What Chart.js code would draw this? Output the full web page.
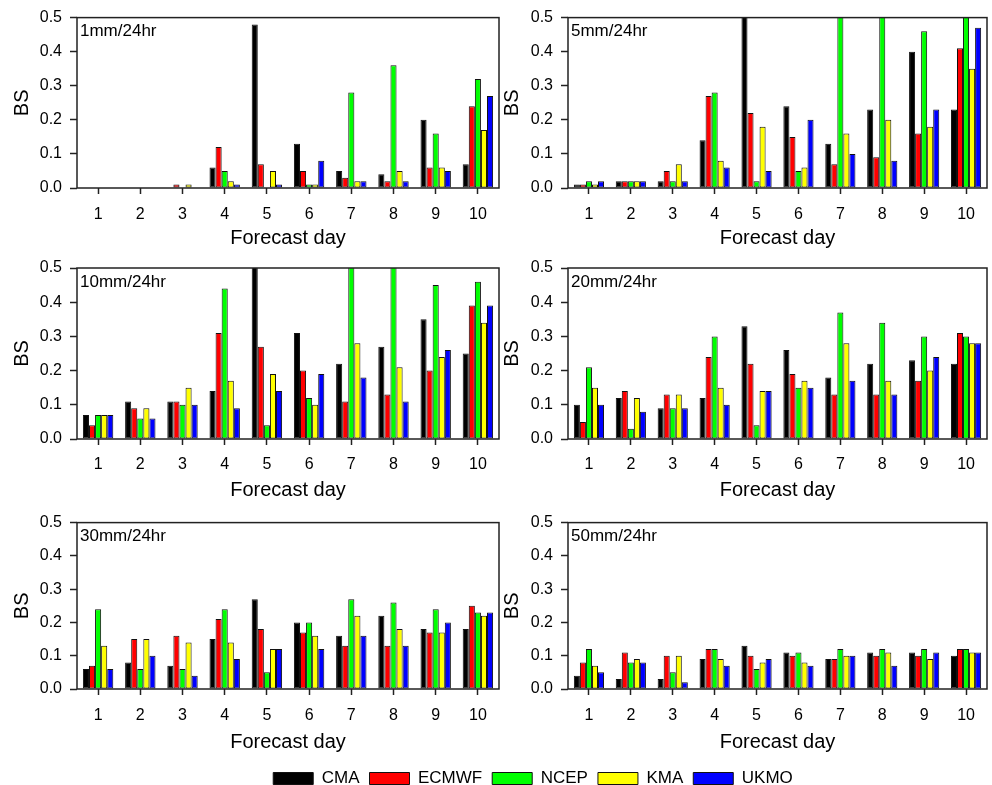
<!DOCTYPE html>
<html>
<head>
<meta charset="utf-8">
<title>BS by forecast day</title>
<script src="https://cdn.jsdelivr.net/npm/chart.js@4.4.1/dist/chart.umd.min.js"></script>
<style>
  html, body { margin: 0; padding: 0; background: #fff; }
  #wrap { position: relative; width: 992px; height: 785px; overflow: hidden; }
  #wrap canvas { position: absolute; }
</style>
</head>
<body>
<div id="wrap"></div>
<script>
var days = ['1', '2', '3', '4', '5', '6', '7', '8', '9', '10'];
var models = ['CMA', 'ECMWF', 'NCEP', 'KMA', 'UKMO'];

// Brier score per threshold, one row per model (same order as models).
// 0.55 marks bars that run off the top of the 0.5 scale.
var bs1mm = [
    [0, 0, 0, 0.06, 0.48, 0.13, 0.05, 0.04, 0.20, 0.07],
    [0, 0, 0.01, 0.12, 0.07, 0.05, 0.03, 0.02, 0.06, 0.24],
    [0, 0, 0, 0.05, 0, 0.01, 0.28, 0.36, 0.16, 0.32],
    [0, 0, 0.01, 0.02, 0.05, 0.01, 0.02, 0.05, 0.06, 0.17],
    [0, 0, 0, 0.01, 0.01, 0.08, 0.02, 0.02, 0.05, 0.27]
];
var bs5mm = [
    [0.01, 0.02, 0.02, 0.14, 0.55, 0.24, 0.13, 0.23, 0.40, 0.23],
    [0.01, 0.02, 0.05, 0.27, 0.22, 0.15, 0.07, 0.09, 0.16, 0.41],
    [0.02, 0.02, 0.02, 0.28, 0.02, 0.05, 0.55, 0.55, 0.46, 0.55],
    [0.01, 0.02, 0.07, 0.08, 0.18, 0.06, 0.16, 0.20, 0.18, 0.35],
    [0.02, 0.02, 0.02, 0.06, 0.05, 0.20, 0.10, 0.08, 0.23, 0.47]
];
var bs10mm = [
    [0.07, 0.11, 0.11, 0.14, 0.55, 0.31, 0.22, 0.27, 0.35, 0.25],
    [0.04, 0.09, 0.11, 0.31, 0.27, 0.20, 0.11, 0.13, 0.20, 0.39],
    [0.07, 0.06, 0.10, 0.44, 0.04, 0.12, 0.55, 0.55, 0.45, 0.46],
    [0.07, 0.09, 0.15, 0.17, 0.19, 0.10, 0.28, 0.21, 0.24, 0.34],
    [0.07, 0.06, 0.10, 0.09, 0.14, 0.19, 0.18, 0.11, 0.26, 0.39]
];
var bs20mm = [
    [0.10, 0.12, 0.09, 0.12, 0.33, 0.26, 0.18, 0.22, 0.23, 0.22],
    [0.05, 0.14, 0.13, 0.24, 0.22, 0.19, 0.13, 0.13, 0.17, 0.31],
    [0.21, 0.03, 0.09, 0.30, 0.04, 0.15, 0.37, 0.34, 0.30, 0.30],
    [0.15, 0.12, 0.13, 0.15, 0.14, 0.17, 0.28, 0.17, 0.20, 0.28],
    [0.10, 0.08, 0.09, 0.10, 0.14, 0.15, 0.17, 0.13, 0.24, 0.28]
];
var bs30mm = [
    [0.06, 0.08, 0.07, 0.15, 0.27, 0.20, 0.16, 0.22, 0.18, 0.18],
    [0.07, 0.15, 0.16, 0.21, 0.18, 0.17, 0.13, 0.13, 0.17, 0.25],
    [0.24, 0.06, 0.06, 0.24, 0.05, 0.20, 0.27, 0.26, 0.24, 0.23],
    [0.13, 0.15, 0.14, 0.14, 0.12, 0.16, 0.22, 0.18, 0.17, 0.22],
    [0.06, 0.10, 0.04, 0.09, 0.12, 0.12, 0.16, 0.13, 0.20, 0.23]
];
var bs50mm = [
    [0.04, 0.03, 0.03, 0.09, 0.13, 0.11, 0.09, 0.11, 0.11, 0.10],
    [0.08, 0.11, 0.10, 0.12, 0.10, 0.10, 0.09, 0.10, 0.10, 0.12],
    [0.12, 0.08, 0.05, 0.12, 0.06, 0.11, 0.12, 0.12, 0.12, 0.12],
    [0.07, 0.09, 0.10, 0.09, 0.08, 0.08, 0.10, 0.11, 0.09, 0.11],
    [0.05, 0.08, 0.02, 0.07, 0.09, 0.07, 0.10, 0.07, 0.11, 0.11]
];
var panelNames = ['1mm/24hr', '5mm/24hr', '10mm/24hr', '20mm/24hr', '30mm/24hr', '50mm/24hr'];
var panelData = [bs1mm, bs5mm, bs10mm, bs20mm, bs30mm, bs50mm];

var modelColors = ['#000000', '#ff0000', '#00ff00', '#ffff00', '#0000ff'];
var FONT = "'Liberation Sans', Arial, sans-serif";

// page layout (pixels)
var rows = [
    { top: 0, h: 250, areaTop: 17, areaBottom: 188, titleMid: 238, tickPad: 11 },
    { top: 250, h: 255, areaTop: 268, areaBottom: 439, titleMid: 490, tickPad: 10 },
    { top: 505, h: 255, areaTop: 518, areaBottom: 689, titleMid: 742, tickPad: 11 }
];
var cols = [
    { left: 0, w: 500, axisW: 77, areaRight: 499, bsMid: 22.5 },
    { left: 500, w: 492, axisW: 68, areaRight: 487, bsMid: 12.5 }
];

Chart.defaults.font.family = FONT;
Chart.defaults.color = '#000';

// box round the plot area plus the threshold label in its corner
var framePlugin = {
    id: 'frame',
    afterDatasetsDraw: function (chart, args, opts) {
        var a = chart.chartArea;
        var ctx = chart.ctx;
        ctx.save();
        ctx.strokeStyle = '#222';
        ctx.lineWidth = 1.5;
        ctx.strokeRect(a.left, a.top, a.right - a.left, a.bottom - a.top);
        if (opts.text) {
            ctx.fillStyle = '#000';
            ctx.font = '17px ' + FONT;
            ctx.textBaseline = 'middle';
            ctx.textAlign = 'left';
            ctx.fillText(opts.text, a.left + 3, a.top + 14);
        }
        ctx.restore();
    }
};

var wrap = document.getElementById('wrap');

function makeCanvas(left, top, w, h) {
    var c = document.createElement('canvas');
    c.width = w;
    c.height = h;
    c.style.left = left + 'px';
    c.style.top = top + 'px';
    c.style.width = w + 'px';
    c.style.height = h + 'px';
    wrap.appendChild(c);
    return c;
}

function makeDatasets(series) {
    return models.map(function (m, i) {
        return {
            label: m,
            data: series ? series[i] : [],
            backgroundColor: modelColors[i],
            borderColor: '#111',
            borderWidth: 1,
            borderSkipped: false,
            categoryPercentage: 0.72,
            barPercentage: 1.0
        };
    });
}

panelData.forEach(function (series, p) {
    var row = rows[Math.floor(p / 2)];
    var col = cols[p % 2];
    var canvas = makeCanvas(col.left, row.top, col.w, row.h);
    var xHeight = row.top + row.h - row.areaBottom;

    new Chart(canvas, {
        type: 'bar',
        data: { labels: days, datasets: makeDatasets(series) },
        plugins: [framePlugin],
        options: {
            responsive: false,
            animation: false,
            devicePixelRatio: 1,
            layout: {
                padding: { top: row.areaTop - row.top, right: col.w - col.areaRight, left: 0, bottom: 0 }
            },
            plugins: {
                legend: { display: false },
                tooltip: { enabled: false },
                frame: { text: panelNames[p] }
            },
            scales: {
                x: {
                    grid: { drawOnChartArea: false, drawTicks: true, tickLength: 6, offset: false, color: '#222', tickWidth: 1.5 },
                    border: { display: false },
                    ticks: { padding: row.tickPad, font: { size: 16 }, color: '#000', maxRotation: 0 },
                    title: {
                        display: true,
                        text: 'Forecast day',
                        font: { size: 20, lineHeight: 1 },
                        padding: { top: 0, bottom: row.top + row.h - row.titleMid - 10 }
                    },
                    afterFit: function (s) { s.height = xHeight; }
                },
                y: {
                    min: 0,
                    max: 0.5,
                    grid: { drawOnChartArea: false, drawTicks: true, tickLength: 7, color: '#222', tickWidth: 1.5 },
                    border: { display: false },
                    ticks: {
                        stepSize: 0.1,
                        padding: 8,
                        font: { size: 16 },
                        color: '#000',
                        callback: function (v) { return Number(v).toFixed(1); }
                    },
                    title: {
                        display: true,
                        text: 'BS',
                        font: { size: 20, lineHeight: 1 },
                        padding: { top: col.bsMid - 10, bottom: 0 }
                    },
                    afterFit: function (s) { s.width = col.axisW; }
                }
            }
        }
    });
});

// shared legend under the bottom row (tall canvas so the legend box is not squeezed)
var legendCanvas = makeCanvas(133, 760, 800, 90);
new Chart(legendCanvas, {
    type: 'bar',
    data: { labels: [], datasets: makeDatasets(null) },
    options: {
        responsive: false,
        animation: false,
        devicePixelRatio: 1,
        layout: { padding: 0 },
        scales: { x: { display: false }, y: { display: false } },
        plugins: {
            tooltip: { enabled: false },
            legend: {
                display: true,
                position: 'top',
                align: 'center',
                labels: { boxWidth: 40, boxHeight: 12, padding: 10, font: { size: 17 }, color: '#000' }
            }
        }
    }
});
</script>
</body>
</html>
